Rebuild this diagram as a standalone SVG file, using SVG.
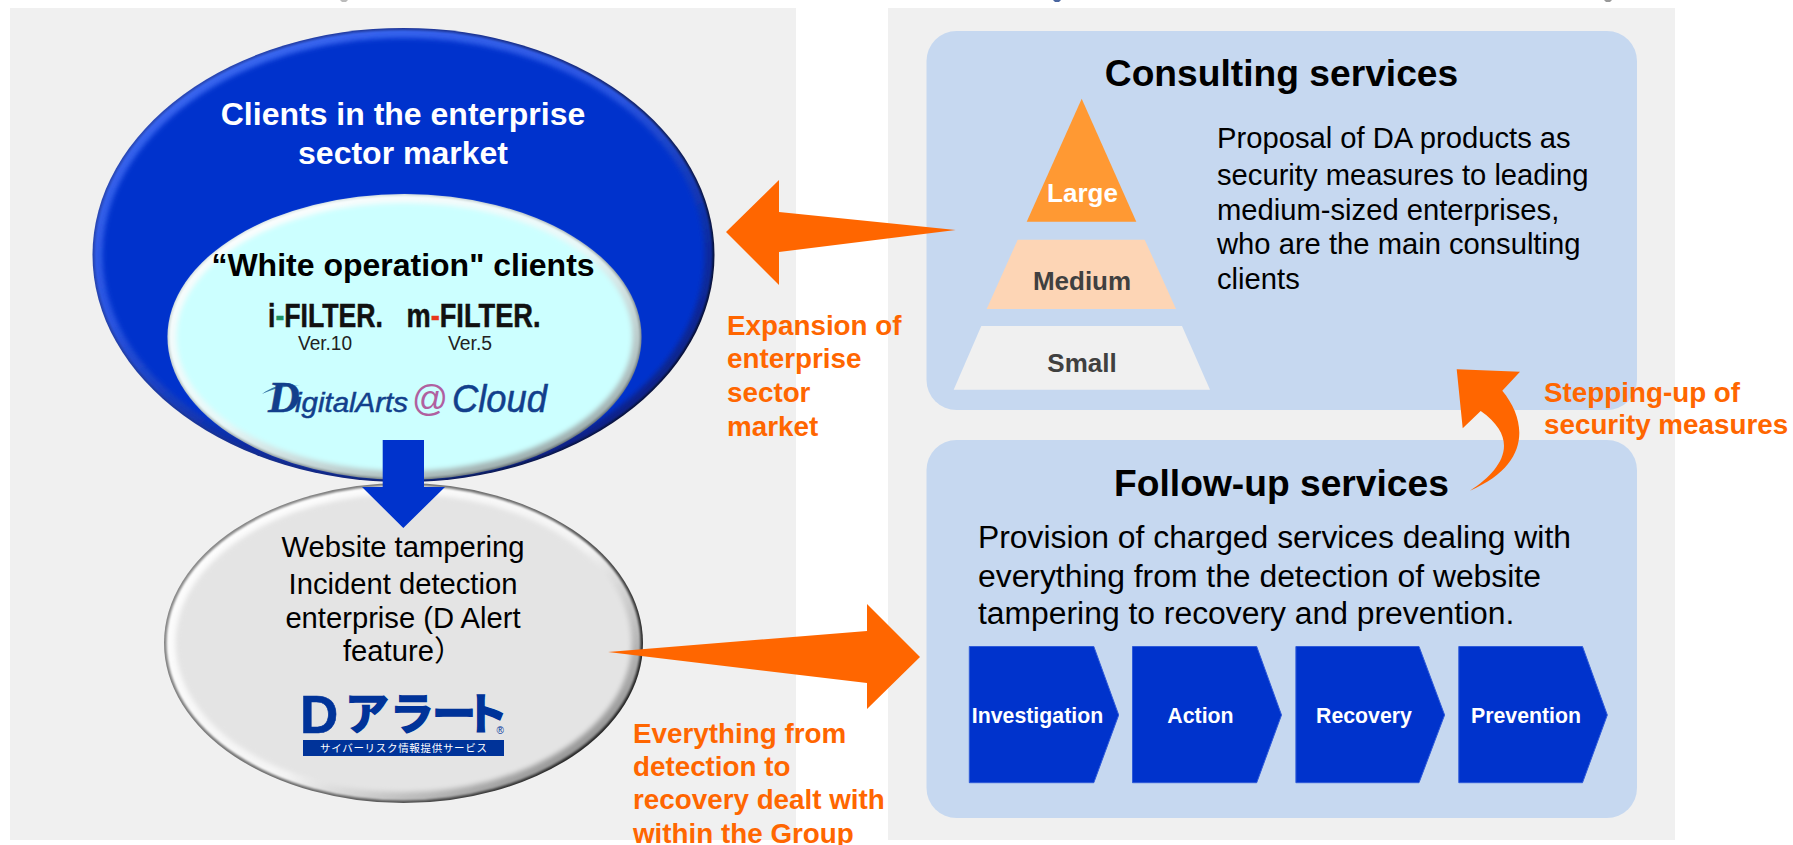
<svg xmlns="http://www.w3.org/2000/svg" width="1793" height="845" viewBox="0 0 1793 845">
<style>
text{font-family:"Liberation Sans",Arial,sans-serif}
.b{font-weight:bold}
.m{text-anchor:middle}
.o{fill:#FF6600;font-weight:bold;font-size:27.8px}
.body{fill:#000;font-size:29.200px}
.fu{fill:#000;font-size:31.850px}
.h{fill:#000;font-weight:bold;font-size:37.200px;text-anchor:middle}
.ch{fill:#fff;font-weight:bold;font-size:21.300px;text-anchor:middle}
.pyr{font-weight:bold;font-size:26px;text-anchor:middle}
.box{fill:#C6D8F0}
.chev{fill:#0033CC;stroke:#2F5BD8;stroke-width:1}
.arr{fill:#FF6600}
.flt{font-weight:bold;font-size:33px;fill:#111;stroke:#111;stroke-width:.5px}
.ver{font-size:20px;fill:#222}
.da{fill:#123F8C;font-style:italic;stroke:#123F8C;stroke-width:.5px}
.cjk{font-family:"Noto Sans CJK JP","Liberation Sans",sans-serif}
</style>
<defs>
<filter id="blur1" x="-5%" y="-5%" width="110%" height="110%"><feGaussianBlur stdDeviation="1.2"/></filter>
<filter id="blur2" x="-5%" y="-5%" width="110%" height="110%"><feGaussianBlur stdDeviation="2.5"/></filter>
<linearGradient id="bigRim" x1="0" y1="0.2" x2="1" y2="0.6"><stop offset="0" stop-color="#2A48B8"/><stop offset="0.6" stop-color="#162A80"/><stop offset="1" stop-color="#0A1030"/></linearGradient>
<linearGradient id="bigBand" x1="0.2" y1="0" x2="0.8" y2="1"><stop offset="0" stop-color="#3C6AF2"/><stop offset="0.4" stop-color="#2A55E0"/><stop offset="0.7" stop-color="#0A2CA0"/><stop offset="1" stop-color="#082080"/></linearGradient>
<linearGradient id="inRim" x1="0.1" y1="0" x2="0.9" y2="1"><stop offset="0" stop-color="#E8F4F4"/><stop offset="0.5" stop-color="#A8B4B4"/><stop offset="1" stop-color="#505A60"/></linearGradient>
<linearGradient id="inBand" x1="0.1" y1="0" x2="0.9" y2="1"><stop offset="0" stop-color="#FFFFFF"/><stop offset="0.5" stop-color="#E8F8F8"/><stop offset="1" stop-color="#8A9A9A"/></linearGradient>
<linearGradient id="grRim" x1="0" y1="0.2" x2="1" y2="0.7"><stop offset="0" stop-color="#8A8A8A"/><stop offset="0.6" stop-color="#666"/><stop offset="1" stop-color="#1E1E1E"/></linearGradient>
<linearGradient id="grBand" x1="0.1" y1="0" x2="1" y2="0.8"><stop offset="0" stop-color="#FFFFFF"/><stop offset="0.6" stop-color="#F4F4F4"/><stop offset="1" stop-color="#888"/></linearGradient>
</defs>
<rect width="1793" height="845" fill="#fff"/>
<g id="panels">
<rect x="10" y="8" width="786" height="832" fill="#F0F0F0"/>
<rect x="888" y="8" width="787" height="832" fill="#F0F0F0"/>
<path d="M340 0h8l-2 2h-4Z" fill="#BBB"/>
<path d="M1053 0h8l-2 2h-4Z" fill="#4A66A0"/>
<path d="M1604 0h8l-2 2h-4Z" fill="#999"/>
</g>
<g id="node-enterprise">
<ellipse cx="403.500" cy="255" rx="311" ry="227" fill="url(#bigRim)"/>
<ellipse cx="403.500" cy="255" rx="309" ry="225" fill="url(#bigBand)" filter="url(#blur1)"/>
<ellipse cx="403.500" cy="255" rx="301" ry="217" fill="#0033CC" filter="url(#blur2)"/>
<text class="b m" x="403" y="125" font-size="32" fill="#fff">Clients in the enterprise</text>
<text class="b m" x="403" y="164" font-size="32" fill="#fff">sector market</text>
</g>
<g id="node-white">
<ellipse cx="404.500" cy="337" rx="237" ry="143" fill="url(#inRim)"/>
<ellipse cx="404.500" cy="337" rx="235.500" ry="141.500" fill="url(#inBand)" filter="url(#blur1)"/>
<ellipse cx="404.500" cy="337" rx="228" ry="134" fill="#CCFFFF" filter="url(#blur2)"/>
<text class="b m" x="403" y="276" font-size="32" fill="#000">“White operation" clients</text>
<g id="logo-filter">
<text class="flt" x="268" y="326.500" textLength="115" lengthAdjust="spacingAndGlyphs">i<tspan fill="#1E8F62" stroke="#1E8F62">-</tspan>FILTER.</text>
<text class="flt" x="406.500" y="326.500" textLength="134" lengthAdjust="spacingAndGlyphs">m<tspan fill="#E8361C" stroke="#E8361C">-</tspan>FILTER.</text>
<text class="ver" x="298" y="350" textLength="54" lengthAdjust="spacingAndGlyphs">Ver.10</text>
<text class="ver" x="448" y="350" textLength="44" lengthAdjust="spacingAndGlyphs">Ver.5</text>
</g>
<g id="logo-cloud">
<path d="M262 394C275 388 285 386 300 386L287 385 290 383C280 384 270 388 262 394Z" fill="#3A7AA8"/>
<text class="da b" x="268" y="412" font-size="44" style="font-family:'Liberation Serif',serif">D</text>
<text class="da" x="295" y="412" font-size="28" textLength="113" lengthAdjust="spacingAndGlyphs">igitalArts</text>
<text x="412" y="411" font-size="36" fill="#B060A0" textLength="36" lengthAdjust="spacingAndGlyphs">@</text>
<text class="da" x="452" y="412" font-size="38" textLength="95" lengthAdjust="spacingAndGlyphs">Cloud</text>
</g>
</g>
<g id="node-incident">
<ellipse cx="403.500" cy="643" rx="239.500" ry="160" fill="url(#grRim)"/>
<ellipse cx="403.500" cy="643" rx="237" ry="157.500" fill="url(#grBand)" filter="url(#blur1)"/>
<ellipse cx="403.500" cy="643" rx="228" ry="149" fill="#E4E4E4" filter="url(#blur2)"/>
<text class="body m" x="403" y="557">Website tampering</text>
<text class="body m" x="403" y="594">Incident detection</text>
<text class="body m" x="403" y="628">enterprise (D Alert</text>
<text class="body" x="343" y="661">feature<tspan class="cjk">）</tspan></text>
<g id="logo-dalert">
<text class="b" x="300" y="733" font-size="53" fill="#003399" stroke="#003399" stroke-width=".6">D</text>
<text class="cjk" x="345 390 432 464" y="730" font-size="44" font-weight="bold" fill="#003399" stroke="#003399" stroke-width="1.6">アラート</text>
<text x="496.500" y="734" font-size="10" fill="#003399">®</text>
<rect x="303" y="740" width="201" height="16" fill="#003399"/>
<text class="cjk" x="320" y="752" font-size="10.5" fill="#fff" textLength="167">サイバーリスク情報提供サービス</text>
</g>
</g>
<g id="node-consulting">
<rect class="box" x="926.500" y="31" width="710.500" height="379" rx="30" ry="30"/>
<text class="h" x="1281.500" y="86">Consulting services</text>
<polygon points="1081.700,98.700 1136.300,221.700 1026.700,221.700" fill="#FF9933"/>
<text class="pyr" x="1082.500" y="201.700" fill="#fff">Large</text>
<polygon points="1017.700,239.700 1144.700,239.700 1176,309 986.700,309" fill="#FDD5B5"/>
<text class="pyr" x="1082" y="290" fill="#404040">Medium</text>
<polygon points="981.300,326 1182,326 1210,389.700 953.700,389.700" fill="#F0F0F0"/>
<text class="pyr" x="1082" y="371.700" fill="#404040">Small</text>
<text class="body" x="1217" y="148">Proposal of DA products as</text>
<text class="body" x="1217" y="184.500">security measures to leading</text>
<text class="body" x="1217" y="220">medium-sized enterprises,</text>
<text class="body" x="1217" y="254">who are the main consulting</text>
<text class="body" x="1217" y="289">clients</text>
</g>
<g id="node-followup">
<rect class="box" x="926.500" y="440" width="710.500" height="378" rx="30" ry="30"/>
<text class="h" x="1281.500" y="496">Follow-up services</text>
<text class="fu" x="978" y="548">Provision of charged services dealing with</text>
<text class="fu" x="978" y="587">everything from the detection of website</text>
<text class="fu" x="978" y="624">tampering to recovery and prevention.</text>
</g>
<g id="node-investigation"><polygon class="chev" points="969.300,646.500 1093.800,646.500 1118.700,715 1093.800,782.700 969.300,782.700"/><text class="ch" x="1037.500" y="722.700">Investigation</text></g>
<g id="node-action"><polygon class="chev" points="1132.500,646.500 1256.700,646.500 1281.500,715 1256.700,782.700 1132.500,782.700"/><text class="ch" x="1200.500" y="722.700">Action</text></g>
<g id="node-recovery"><polygon class="chev" points="1295.900,646.500 1419,646.500 1444.600,715 1419,782.700 1295.900,782.700"/><text class="ch" x="1364" y="722.700">Recovery</text></g>
<g id="node-prevention"><polygon class="chev" points="1458.800,646.500 1582.500,646.500 1607.300,715 1582.500,782.700 1458.800,782.700"/><text class="ch" x="1526" y="722.700">Prevention</text></g>
<g id="connectors">
<polygon fill="#0033CC" points="382.700,440 424,440 424,487 445,487 403.300,528 362,487 382.700,487"/>
<polygon class="arr" points="955.700,230 779,212 779,180 726,232 779,285 779,252"/>
<polygon class="arr" points="608,652 867,631 867,604 920,657 867,709 867,683"/>
<path class="arr" d="M1456.700 369.300 1520 371.700 1502.300 390.700C1528 422 1530 465 1470 490.700 1502 470 1522 440 1480.700 411L1462.700 428.300Z"/>
</g>
<g id="labels">
<text class="o" x="727" y="335">Expansion of</text>
<text class="o" x="727" y="368">enterprise</text>
<text class="o" x="727" y="402">sector</text>
<text class="o" x="727" y="436">market</text>
<text class="o" x="633" y="742.700">Everything from</text>
<text class="o" x="633" y="776">detection to</text>
<text class="o" x="633" y="809">recovery dealt with</text>
<text class="o" x="633" y="842.700">within the Group</text>
<text class="o" x="1544" y="401.700">Stepping-up of</text>
<text class="o" x="1544" y="434">security measures</text>
</g>
</svg>
